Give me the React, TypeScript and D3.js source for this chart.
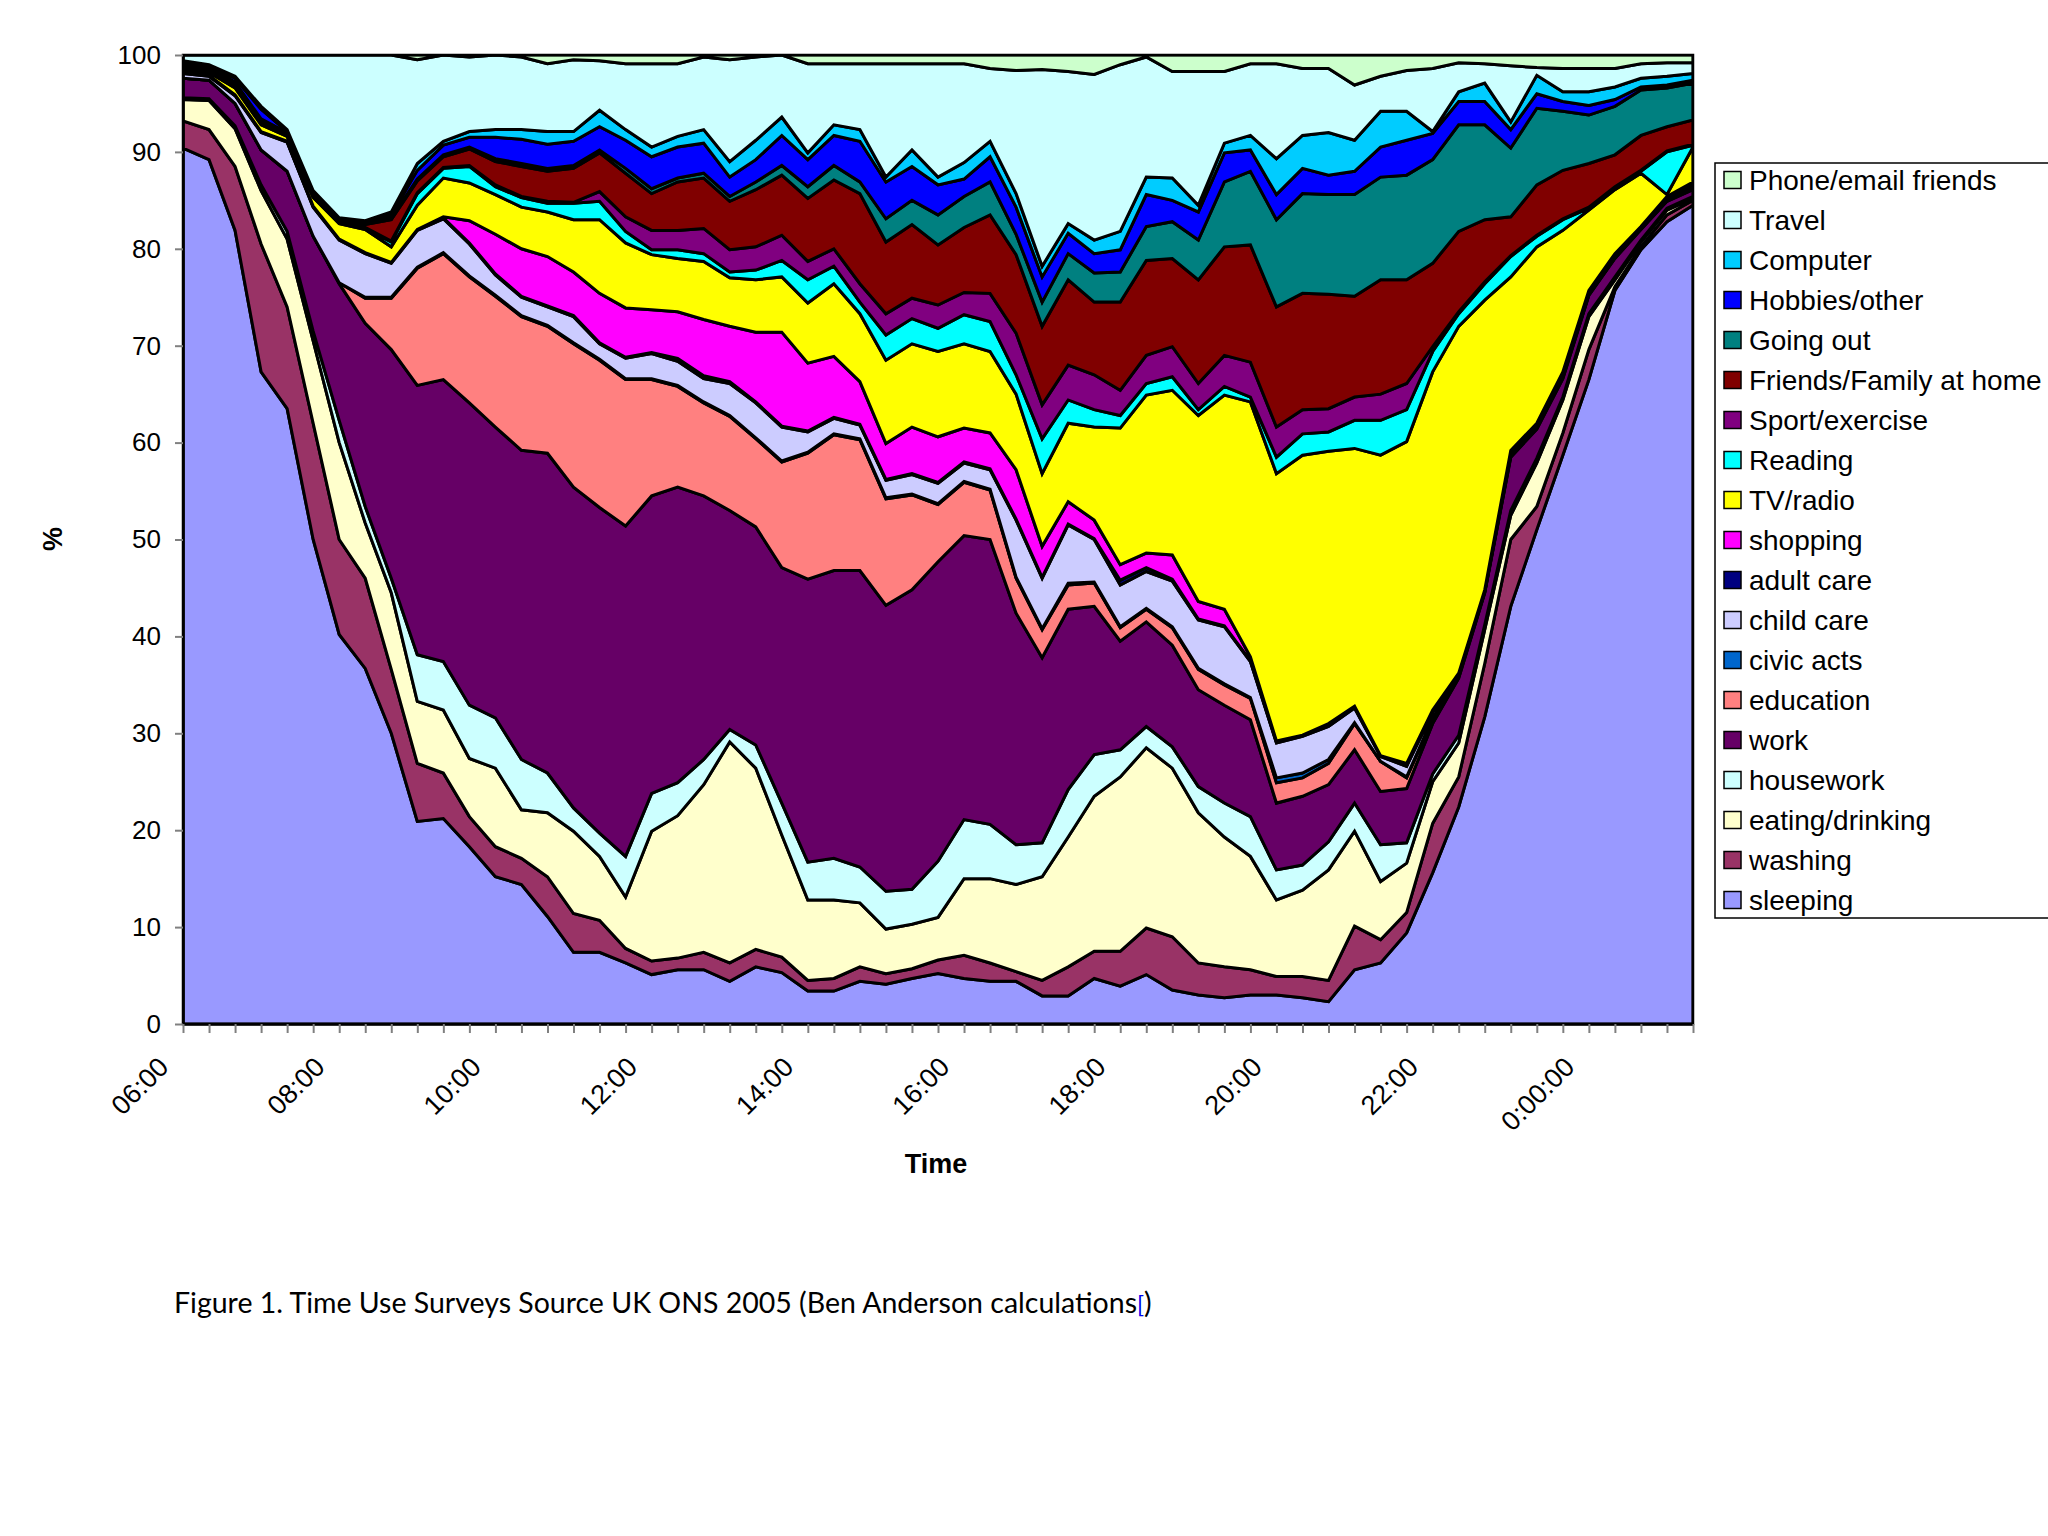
import { useEffect, useRef } from 'react';
import * as d3 from 'd3';

// 20-minute diary slots, 06:00 through 01:20
const times = [
  '06:00', '06:20', '06:40', '07:00', '07:20', '07:40', '08:00', '08:20', '08:40', '09:00',
  '09:20', '09:40', '10:00', '10:20', '10:40', '11:00', '11:20', '11:40', '12:00', '12:20',
  '12:40', '13:00', '13:20', '13:40', '14:00', '14:20', '14:40', '15:00', '15:20', '15:40',
  '16:00', '16:20', '16:40', '17:00', '17:20', '17:40', '18:00', '18:20', '18:40', '19:00',
  '19:20', '19:40', '20:00', '20:20', '20:40', '21:00', '21:20', '21:40', '22:00', '22:20',
  '22:40', '23:00', '23:20', '23:40', '0:00:00', '00:20', '00:40', '01:00', '01:20',
];

const sleeping = [90.4, 89.2, 81.9, 67.3, 63.5, 50.0, 40.2, 36.7, 30.0, 20.9, 21.2, 18.3, 15.2, 14.4, 11.1, 7.4, 7.4, 6.3, 5.1, 5.6, 5.6, 4.4, 5.9, 5.3, 3.4, 3.4, 4.4, 4.1, 4.7, 5.2, 4.7, 4.4, 4.4, 2.9, 2.9, 4.7, 3.9, 5.1, 3.5, 3.0, 2.7, 3.0, 3.0, 2.7, 2.3, 5.6, 6.3, 9.4, 15.6, 22.4, 31.7, 43.1, 51.0, 58.7, 66.5, 75.7, 79.9, 82.8, 84.5];
const washing = [2.8, 3.1, 6.6, 13.2, 10.5, 12.0, 9.8, 9.3, 6.6, 6.0, 4.7, 3.1, 3.1, 2.7, 4.1, 4.0, 3.3, 1.5, 1.4, 1.2, 1.8, 1.9, 1.8, 1.6, 1.1, 1.3, 1.5, 1.1, 1.0, 1.4, 2.4, 1.9, 1.0, 1.6, 3.0, 2.8, 3.6, 4.8, 5.5, 3.3, 3.2, 2.6, 1.9, 2.2, 2.2, 4.5, 2.4, 2.1, 5.1, 3.1, 5.5, 6.9, 2.4, 2.3, 3.1, 0.4, 0.3, 0.7, 0.5];
const eating = [2.2, 3.0, 3.9, 5.5, 7.0, 8.5, 10.0, 5.7, 7.9, 6.4, 6.5, 6.0, 8.1, 5.0, 6.6, 8.5, 6.6, 5.3, 13.4, 14.7, 17.3, 22.8, 18.7, 12.6, 8.3, 8.1, 6.6, 4.6, 4.6, 4.4, 7.9, 8.7, 9.0, 10.7, 13.4, 16.0, 18.0, 18.6, 17.4, 15.5, 13.4, 11.7, 7.9, 8.9, 11.4, 9.8, 6.0, 5.1, 4.3, 3.5, 3.5, 2.5, 4.5, 3.4, 3.4, 0.7, 0.5, 0.5, 0.2];
const housework = [0.2, 0.2, 0.3, 0.6, 0.8, 1.0, 2.3, 1.7, 1.5, 4.8, 5.0, 5.5, 5.2, 5.2, 4.1, 2.4, 2.4, 4.2, 3.9, 3.4, 2.6, 1.3, 2.4, 3.3, 3.9, 4.3, 3.7, 3.9, 3.6, 5.8, 6.1, 5.6, 4.1, 3.5, 4.9, 4.3, 2.8, 2.2, 2.2, 2.7, 3.5, 4.1, 3.1, 2.6, 2.9, 2.9, 3.8, 2.1, 0.8, 0.8, 0.5, 0.5, 0.5, 0.3, 0.3, 0.3, 0.2, 0.2, 0.2];
const work = [2.0, 1.9, 2.3, 3.6, 6.2, 9.8, 14.1, 18.9, 23.6, 27.8, 29.1, 31.2, 30.0, 31.9, 33.0, 33.1, 33.6, 34.1, 30.7, 30.5, 27.2, 22.6, 22.5, 24.3, 29.2, 29.7, 30.6, 29.5, 30.9, 30.9, 29.3, 29.4, 23.9, 19.1, 18.6, 15.3, 11.2, 10.8, 10.5, 10.0, 10.1, 10.0, 6.9, 7.1, 5.9, 5.5, 5.5, 5.6, 5.2, 5.9, 3.3, 5.5, 3.0, 1.9, 1.9, 1.9, 1.1, 0.7, 0.7];
const education = [0, 0, 0, 0, 0, 0, 0.1, 2.6, 5.3, 12.1, 13.0, 13.0, 13.5, 13.8, 13.1, 14.8, 15.2, 15.1, 12.0, 10.4, 9.6, 9.7, 9.1, 10.9, 13.0, 14.0, 13.5, 11.0, 9.8, 5.9, 5.5, 5.1, 3.6, 2.9, 2.5, 2.4, 1.4, 1.3, 1.8, 2.1, 2.1, 2.2, 2.1, 1.9, 2.2, 2.7, 3.1, 1.1, 0.5, 0.2, 0.1, 0.2, 0.2, 0.2, 0.1, 0.1, 0.1, 0.1, 0.2];
const civicActs = [0, 0, 0, 0, 0, 0, 0, 0.1, 0.1, 0.1, 0.1, 0.1, 0.1, 0.1, 0.1, 0.1, 0.1, 0.1, 0.1, 0.1, 0.1, 0.1, 0.1, 0.1, 0.1, 0.1, 0.1, 0.1, 0.1, 0.1, 0.1, 0.1, 0.1, 0.1, 0.2, 0.1, 0.1, 0.1, 0.1, 0.1, 0.1, 0.1, 0.5, 0.5, 0.4, 0.1, 0, 0.1, 0.1, 0, 0, 0, 0, 0, 0, 0, 0, 0, 0];
const childCare = [0.5, 0.4, 0.8, 1.8, 3.0, 3.0, 4.4, 4.5, 3.5, 3.8, 3.5, 3.3, 2.1, 1.9, 1.9, 2.7, 1.6, 2.1, 2.6, 2.5, 2.4, 3.3, 3.6, 3.5, 2.1, 1.6, 1.4, 1.8, 2.0, 2.1, 1.9, 2.0, 5.9, 5.2, 6.0, 4.4, 4.3, 3.8, 4.7, 5.0, 5.9, 3.7, 3.6, 3.8, 3.4, 1.5, 0.5, 1.1, 0.6, 0.2, 0.1, 0.3, 0.2, 0.3, 0.2, 0.2, 0.1, 0.2, 0.3];
const adultCare = [0.1, 0.1, 0.1, 0.1, 0.1, 0.1, 0.1, 0.1, 0.1, 0.1, 0.1, 0.1, 0.1, 0.1, 0.1, 0.1, 0.1, 0.1, 0.1, 0.3, 0.3, 0.2, 0.1, 0.1, 0.1, 0.1, 0.1, 0.1, 0.1, 0.1, 0.1, 0.1, 0.1, 0.1, 0.1, 0.1, 0.5, 0.4, 0.2, 0.1, 0.1, 0.1, 0.1, 0.1, 0.1, 0.1, 0.1, 0.1, 0.1, 0, 0, 0.1, 0.1, 0.1, 0.1, 0.1, 0, 0.1, 0.1];
const shopping = [0, 0, 0, 0, 0, 0, 0, 0, 0, 0, 0.1, 2.3, 4.1, 4.9, 5.1, 4.5, 5.1, 5.1, 4.4, 4.8, 5.8, 5.7, 7.2, 9.7, 7.0, 6.3, 4.4, 3.7, 4.8, 4.7, 3.5, 3.7, 5.1, 3.2, 2.3, 1.9, 1.6, 1.5, 2.5, 1.8, 1.7, 0.4, 0.1, 0, 0.2, 0.1, 0, 0.2, 0.1, 0.1, 0.1, 0.1, 0.1, 0.1, 0.1, 0.1, 0.1, 0.1, 0.2];
const tvRadio = [0.2, 0.3, 0.7, 0.7, 0.5, 0.9, 1.6, 2.4, 1.6, 2.5, 4.0, 3.9, 4.1, 4.3, 4.6, 5.4, 7.6, 6.7, 5.7, 5.5, 6.0, 5.0, 5.4, 5.7, 6.2, 7.5, 7.0, 8.6, 8.6, 8.8, 8.7, 8.4, 7.8, 7.5, 8.1, 9.6, 14.1, 16.3, 17.0, 19.2, 22.1, 26.3, 27.6, 28.9, 28.1, 26.6, 31.0, 33.2, 34.9, 35.8, 29.9, 17.9, 18.2, 14.6, 8.3, 6.6, 5.5, 0.2, 3.6];
const reading = [0.2, 0.2, 0.2, 0.2, 0.1, 0.1, 0.1, 0.1, 0.5, 1.2, 1.0, 1.7, 0.8, 1.0, 0.9, 1.7, 1.9, 1.2, 0.5, 0.9, 0.8, 0.6, 1.0, 1.7, 2.4, 1.8, 1.2, 2.6, 2.6, 2.4, 3.0, 3.1, 2.0, 3.6, 2.4, 1.8, 1.3, 1.2, 1.4, 0.6, 0.9, 0.5, 1.7, 2.2, 2.0, 2.9, 3.6, 3.3, 2.1, 1.3, 1.7, 2.1, 1.1, 1.1, 0.2, 0.2, 0.2, 4.4, 0.2];
const sport = [0.1, 0.1, 0.1, 0.1, 0.1, 0.1, 0.1, 0.1, 0.1, 0.1, 0.1, 0.1, 0.2, 0.1, 0.2, 0.1, 1.0, 1.5, 2.0, 2.0, 2.6, 2.3, 2.4, 2.6, 1.9, 1.8, 1.9, 2.2, 2.1, 2.4, 2.3, 2.9, 4.3, 3.5, 3.6, 3.6, 2.6, 2.9, 3.1, 2.7, 3.2, 3.6, 3.1, 2.5, 2.4, 2.4, 2.7, 2.7, 0.5, 0.2, 0.2, 0.1, 0.1, 0.1, 0.1, 0.1, 0.1, 0.1, 0.1];
const friendsHome = [0.2, 0.2, 0.2, 0.2, 0.1, 0.2, 0.1, 0.3, 2.2, 1.2, 1.1, 1.7, 2.4, 3.1, 3.1, 3.5, 4.0, 4.5, 3.8, 5.0, 5.2, 5.0, 5.9, 6.2, 6.5, 7.1, 9.3, 7.4, 7.6, 6.2, 6.7, 8.1, 8.1, 8.1, 8.8, 7.5, 9.1, 9.8, 9.1, 10.7, 11.2, 12.1, 12.4, 12.0, 11.8, 10.4, 11.8, 10.7, 8.6, 8.3, 6.4, 4.0, 5.2, 5.0, 4.5, 3.3, 3.6, 2.5, 2.5];
const goingOut = [0.1, 0.1, 0.1, 0.1, 0.1, 0.1, 0.1, 0.1, 0.2, 0.2, 0.2, 0.2, 0.3, 0.3, 0.3, 0.3, 0.3, 0.5, 0.5, 0.4, 0.5, 0.5, 0.8, 1.0, 1.2, 1.5, 1.2, 2.4, 2.5, 3.1, 3.2, 3.4, 2.1, 2.5, 2.7, 3.0, 3.1, 3.5, 3.8, 4.1, 6.7, 7.6, 9.0, 10.3, 10.3, 10.5, 10.6, 10.8, 10.7, 11.0, 9.8, 7.1, 7.9, 6.1, 5.0, 5.0, 4.7, 4.0, 3.8];
const hobbies = [0.2, 0.1, 0.4, 1.0, 0.1, 0.1, 0.1, 0.2, 0.3, 0.9, 1.0, 1.0, 2.2, 2.5, 2.5, 2.5, 2.4, 2.9, 3.3, 3.2, 3.1, 2.0, 2.3, 3.1, 2.8, 3.1, 4.2, 3.8, 3.5, 3.1, 1.8, 2.6, 2.8, 2.6, 2.1, 2.0, 2.3, 3.3, 2.2, 2.9, 3.0, 2.2, 2.6, 2.6, 2.0, 2.4, 3.1, 3.6, 2.7, 2.4, 2.4, 1.9, 1.5, 1.0, 1.0, 0.7, 0.3, 0.3, 0.3];
const computer = [0.2, 0.1, 0.2, 0.3, 0.2, 0.1, 0.1, 0.1, 0.3, 0.7, 0.4, 0.6, 0.8, 1.0, 1.3, 1.0, 1.7, 1.1, 1.0, 1.1, 1.4, 1.6, 2.0, 1.9, 0.7, 1.1, 1.2, 0.5, 1.7, 0.8, 1.7, 1.6, 1.4, 1.1, 1.0, 1.4, 1.9, 1.8, 2.3, 0.7, 1.0, 1.5, 3.7, 3.4, 4.4, 3.2, 3.7, 3.0, 0.2, 1.0, 1.9, 0.8, 1.9, 1.0, 1.4, 1.3, 0.9, 0.9, 0.7];
const travel = [0.6, 1.0, 2.2, 5.3, 7.7, 14.0, 16.8, 17.1, 16.2, 10.7, 8.9, 7.7, 7.7, 7.5, 7.0, 7.4, 5.1, 6.8, 8.6, 7.5, 7.5, 10.5, 8.6, 6.4, 9.2, 6.3, 6.8, 11.7, 8.9, 11.7, 10.2, 7.5, 12.7, 20.3, 15.7, 17.1, 17.2, 12.4, 11.0, 13.8, 7.4, 7.4, 9.8, 6.9, 6.6, 5.7, 3.6, 4.2, 6.5, 3.0, 2.0, 5.8, 0.8, 2.4, 2.4, 1.9, 1.5, 1.4, 1.1];
const phoneEmail = [0, 0, 0, 0, 0, 0, 0, 0, 0, 0.5, 0, 0.2, 0, 0.2, 0.9, 0.5, 0.6, 0.9, 0.9, 0.9, 0.2, 0.5, 0.2, 0, 0.9, 0.9, 0.9, 0.9, 0.9, 0.9, 0.9, 1.4, 1.6, 1.5, 1.7, 2.0, 1.0, 0.2, 1.7, 1.7, 1.7, 0.9, 0.9, 1.4, 1.4, 3.1, 2.2, 1.6, 1.4, 0.8, 0.9, 1.1, 1.3, 1.4, 1.4, 1.4, 0.9, 0.8, 0.8];

// stacked bottom to top
const seriesNames = [
  'sleeping', 'washing', 'eating/drinking', 'housework', 'work', 'education', 'civic acts',
  'child care', 'adult care', 'shopping', 'TV/radio', 'Reading', 'Sport/exercise',
  'Friends/Family at home', 'Going out', 'Hobbies/other', 'Computer', 'Travel', 'Phone/email friends',
];
const seriesValues = [
  sleeping, washing, eating, housework, work, education, civicActs, childCare, adultCare,
  shopping, tvRadio, reading, sport, friendsHome, goingOut, hobbies, computer, travel, phoneEmail,
];
const yTicks = [0, 10, 20, 30, 40, 50, 60, 70, 80, 90, 100];

const colors = [
  '#9999FF', '#993366', '#FFFFCC', '#CCFFFF', '#660066', '#FF8080', '#0066CC', '#CCCCFF', '#000080',
  '#FF00FF', '#FFFF00', '#00FFFF', '#800080', '#800000', '#008080', '#0000FF', '#00CCFF', '#CCFFFF', '#CCFFCC',
];

const FONT = '"Liberation Sans", Arial, sans-serif';

export default function App() {
  const ref = useRef<SVGSVGElement>(null);

  useEffect(() => {
    const svg = d3.select(ref.current);
    svg.selectAll('*').remove();

    const left = 183;
    const right = 1693;
    const top = 55;
    const bottom = 1024;

    const x = d3.scalePoint<string>().domain(times).range([left, right]);
    const y = d3.scaleLinear().domain([0, 100]).range([bottom, top]);

    const keys = seriesNames.map((_, i) => `s${i}`);
    const rows = times.map((t, i) => {
      const row: any = { time: t };
      seriesValues.forEach((vals, k) => (row[keys[k]] = vals[i]));
      return row;
    });
    const stacked = d3.stack().keys(keys)(rows);

    svg.append('rect').attr('width', 2048).attr('height', 1536).attr('fill', '#fff');

    svg
      .append('clipPath')
      .attr('id', 'plot-clip')
      .append('rect')
      .attr('x', left)
      .attr('y', top)
      .attr('width', right - left)
      .attr('height', bottom - top);

    const area = d3
      .area<any>()
      .x((d) => x(d.data.time) as number)
      .y0((d) => y(d[0]))
      .y1((d) => y(d[1]));

    svg
      .append('g')
      .attr('clip-path', 'url(#plot-clip)')
      .selectAll('path')
      .data(stacked)
      .enter()
      .append('path')
      .attr('d', (d: any) => area(d))
      .attr('fill', (_, i) => colors[i])
      .attr('stroke', '#000')
      .attr('stroke-width', 3)
      .attr('stroke-linejoin', 'miter');

    // plot frame
    svg
      .append('rect')
      .attr('x', left)
      .attr('y', top)
      .attr('width', right - left)
      .attr('height', bottom - top)
      .attr('fill', 'none')
      .attr('stroke', '#000')
      .attr('stroke-width', 2.5);

    const yAxis = d3
      .axisLeft(y)
      .tickValues(yTicks)
      .tickSize(8)
      .tickSizeOuter(0)
      .tickPadding(14)
      .tickFormat((d) => String(d));
    const gy = svg.append('g').attr('transform', `translate(${left},0)`).call(yAxis);
    gy.select('.domain').attr('stroke', '#000').attr('stroke-width', 2.5);
    gy.selectAll('.tick line').attr('stroke', '#808080').attr('stroke-width', 2);
    gy.selectAll('.tick text').attr('font-family', FONT).attr('font-size', 26).attr('fill', '#000');

    const xAxis = d3
      .axisBottom(x)
      .tickSize(9)
      .tickSizeOuter(0)
      .tickFormat((d, i) => (i % 6 === 0 ? d : ''));
    const gx = svg.append('g').attr('transform', `translate(0,${bottom})`).call(xAxis);
    gx.select('.domain').attr('stroke', '#000').attr('stroke-width', 2.5);
    gx.selectAll('.tick line').attr('stroke', '#808080').attr('stroke-width', 2);
    gx.selectAll('.tick text')
      .attr('font-family', FONT)
      .attr('font-size', 27)
      .attr('fill', '#000')
      .attr('text-anchor', 'end')
      .attr('x', 0)
      .attr('y', 0)
      .attr('dy', '0.35em')
      .attr('transform', 'translate(-20,38) rotate(-45)');

    svg
      .append('text')
      .attr('transform', 'translate(62,539) rotate(-90)')
      .attr('text-anchor', 'middle')
      .attr('font-family', FONT)
      .attr('font-weight', 'bold')
      .attr('font-size', 27)
      .text('%');

    svg
      .append('text')
      .attr('x', 936)
      .attr('y', 1173)
      .attr('text-anchor', 'middle')
      .attr('font-family', FONT)
      .attr('font-weight', 'bold')
      .attr('font-size', 27)
      .text('Time');

    // legend, top entry is the last stacked series
    const lg = svg.append('g');
    lg.append('rect')
      .attr('x', 1715)
      .attr('y', 163)
      .attr('width', 400)
      .attr('height', 755)
      .attr('fill', '#fff')
      .attr('stroke', '#000')
      .attr('stroke-width', 1.5);
    const order = d3.range(seriesNames.length).reverse();
    const items = lg
      .selectAll('g.item')
      .data(order)
      .enter()
      .append('g')
      .attr('class', 'item')
      .attr('transform', (_, k) => `translate(0,${180 + k * 40})`);
    items
      .append('rect')
      .attr('x', 1724)
      .attr('y', -8.5)
      .attr('width', 17)
      .attr('height', 17)
      .attr('fill', (i) => colors[i])
      .attr('stroke', '#000')
      .attr('stroke-width', 1.5);
    items
      .append('text')
      .attr('x', 1749)
      .attr('dy', '0.36em')
      .attr('font-family', FONT)
      .attr('font-size', 28)
      .attr('fill', '#000')
      .text((i) => seriesNames[i]);

    // caption with its footnote link mark
    const cap = svg
      .append('text')
      .attr('x', 174)
      .attr('y', 1313)
      .attr('font-family', 'Lato, "Open Sans", sans-serif')
      .attr('font-size', 28.5)
      .attr('fill', '#000');
    cap.append('tspan').text('Figure 1. Time Use Surveys Source UK ONS 2005 (Ben Anderson calculations');
    cap
      .append('tspan')
      .attr('font-size', 23)
      .attr('fill', '#0000EE')
      .attr('text-decoration', 'underline')
      .text('[');
    cap.append('tspan').text(')');
  }, []);

  return (
    <svg
      ref={ref}
      width={2048}
      height={1536}
      style={{ position: 'absolute', left: 0, top: 0, display: 'block' }}
    />
  );
}
